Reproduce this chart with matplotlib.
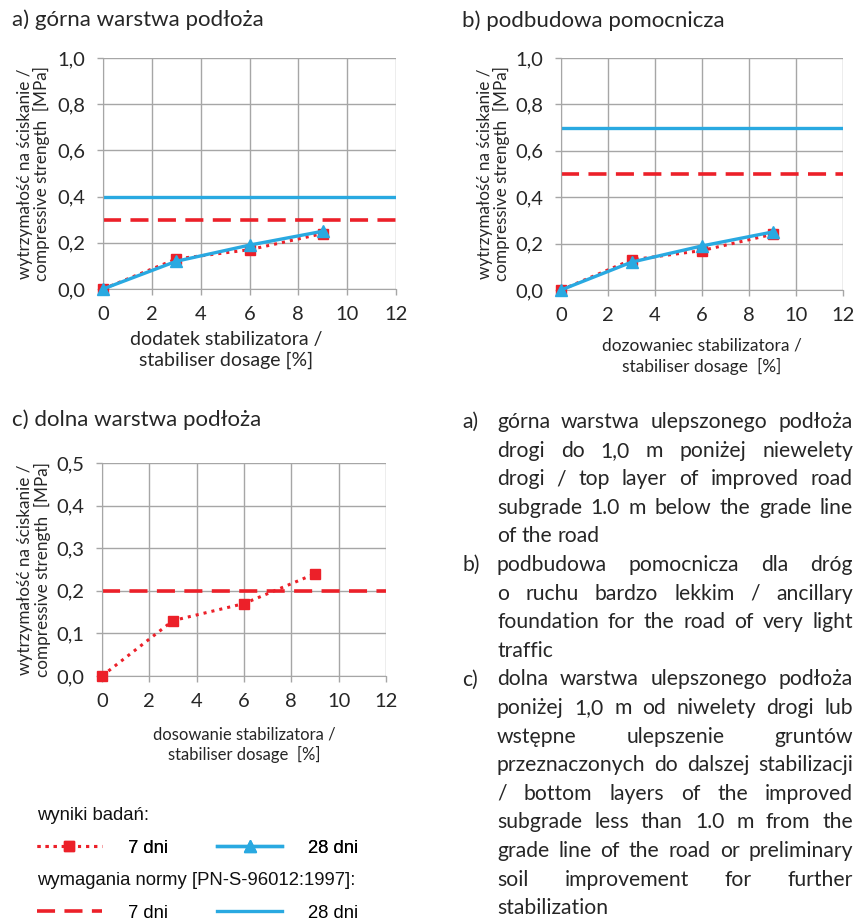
import numpy as np
import matplotlib
matplotlib.use("Agg")
import matplotlib.pyplot as plt
from matplotlib.lines import Line2D

# dane z wykresu
dawka = [0, 3, 6, 9]
wyniki_7dni = [0.0, 0.13, 0.17, 0.24]
wyniki_28dni = [0.0, 0.12, 0.19, 0.25]
norma_7dni = {"a": 0.3, "b": 0.5, "c": 0.2}
norma_28dni = {"a": 0.4, "b": 0.7}
tytuly = {"a": "a) górna warstwa podłoża",
          "b": "b) podbudowa pomocnicza",
          "c": "c) dolna warstwa podłoża"}
opisy_x = {"a": "dodatek stabilizatora /\nstabiliser dosage [%]",
           "b": "dozowaniec stabilizatora /\nstabiliser dosage  [%]",
           "c": "dosowanie stabilizatora /\nstabiliser dosage  [%]"}
opis_y = "wytrzymałość na ściskanie /\ncompressive strength  [MPa]"
x_ticks = [0, 2, 4, 6, 8, 10, 12]

# tekst opisu po prawej (akapity -> linie)
opis_akapity = [
    ("a)", ["górna warstwa ulepszonego podłoża",
            "drogi do 1,0 m poniżej niewelety",
            "drogi / top layer of improved road",
            "subgrade 1.0 m below the grade line",
            "of the road"]),
    ("b)", ["podbudowa pomocnicza dla dróg",
            "o ruchu bardzo lekkim / ancillary",
            "foundation for the road of very light",
            "traffic"]),
    ("c)", ["dolna warstwa ulepszonego podłoża",
            "poniżej 1,0 m od niwelety drogi lub",
            "wstępne ulepszenie gruntów",
            "przeznaczonych do dalszej stabilizacji",
            "/ bottom layers of the improved",
            "subgrade less than 1.0 m from the",
            "grade line of the road or preliminary",
            "soil improvement for further",
            "stabilization"]),
]

CZERWONY = "#ec2029"
NIEBIESKI = "#29a9e1"
SZARY = "#a6a6a6"
TEKST = "#262626"

plt.rcParams["font.family"] = ["Lato", "DejaVu Sans"]

W, H = 856, 921
fig = plt.figure(figsize=(W / 100, H / 100), dpi=100)


def px_axes(x0, x1, y_top, y_bot):
    return fig.add_axes([x0 / W, 1 - y_bot / H, (x1 - x0) / W, (y_bot - y_top) / H])


def rysuj_panel(ax, klucz, ymax, ystep, xlab_fs, xlab_pos):
    ax.plot(dawka, wyniki_7dni, color=CZERWONY, ls=":", lw=2.2, marker="s",
            ms=7.5, zorder=3, clip_on=False)
    if klucz in norma_28dni:
        ax.plot(dawka, wyniki_28dni, color=NIEBIESKI, ls="-", lw=2.4, marker="^",
                ms=8, zorder=4, clip_on=False)
        ax.axhline(norma_28dni[klucz], color=NIEBIESKI, lw=2.4, zorder=2)
    ax.axhline(norma_7dni[klucz], color=CZERWONY, lw=2.6, ls=(0, (5, 2.6)), zorder=2)

    ax.set_xlim(0, 12)
    ax.set_ylim(0, ymax)
    ax.set_xticks(x_ticks)
    yt = np.round(np.arange(0, ymax + ystep / 2, ystep), 2)
    ax.set_yticks(yt)
    ax.set_yticklabels([f"{v:.1f}".replace(".", ",") for v in yt])
    ax.grid(True, color=SZARY, lw=1)
    ax.set_axisbelow(True)
    for s in ["top", "right"]:
        ax.spines[s].set_visible(False)
    for s in ["left", "bottom"]:
        ax.spines[s].set_color(SZARY)
    ax.tick_params(axis="both", length=4, width=1, color=SZARY, labelsize=14.5,
                   labelcolor=TEKST)
    ax.tick_params(axis="y", pad=9)
    ax.tick_params(axis="x", pad=8)

    ax.set_ylabel(opis_y, fontsize=12.3, color=TEKST, linespacing=1.05)
    ax.yaxis.set_label_coords(-0.18, 0.5)
    ax.set_xlabel(opisy_x[klucz], fontsize=xlab_fs, color=TEKST, linespacing=1.3)
    ax.xaxis.set_label_coords(xlab_pos[0], xlab_pos[1])


ax_a = px_axes(103, 396, 58, 289)
rysuj_panel(ax_a, "a", 1.0, 0.2, 14, (0.42, -0.18))
ax_b = px_axes(561, 843, 58, 290)
rysuj_panel(ax_b, "b", 1.0, 0.2, 12.5, (0.5, -0.205))
ax_c = px_axes(102, 386, 463, 676)
rysuj_panel(ax_c, "c", 0.5, 0.1, 12, (0.5, -0.235))

fig.text(12 / W, 1 - 20 / H, tytuly["a"], fontsize=16, va="center", color=TEKST)
fig.text(462 / W, 1 - 21 / H, tytuly["b"], fontsize=16, va="center", color=TEKST)
fig.text(12 / W, 1 - 420 / H, tytuly["c"], fontsize=16, va="center", color=TEKST)

# legenda
leg_font = "Liberation Sans"
LFS = 13.3
h7 = Line2D([], [], color=CZERWONY, ls=":", lw=2.2, marker="s", ms=7.5)
h28 = Line2D([], [], color=NIEBIESKI, ls="-", lw=2.4, marker="^", ms=8)
n7 = Line2D([], [], color=CZERWONY, ls=(0, (5, 2.6)), lw=2.6)
n28 = Line2D([], [], color=NIEBIESKI, ls="-", lw=2.4)
leg_kw = dict(ncol=2, frameon=False, loc="center left",
              prop={"family": leg_font, "size": LFS},
              handlelength=3.5, handletextpad=1.4, columnspacing=2.7,
              borderpad=0, borderaxespad=0)
fig.text(37 / W, 1 - 816 / H, "wyniki badań:", family=leg_font, fontsize=LFS,
         va="center", color="#111111")
fig.text(37 / W, 1 - 880 / H, "wymagania normy [PN-S-96012:1997]:", family=leg_font,
         fontsize=LFS, va="center", color="#111111")
l1 = fig.legend([h7, h28], ["7 dni", "28 dni"], bbox_to_anchor=(37 / W, 1 - 848 / H), **leg_kw)
fig.add_artist(l1)
fig.legend([n7, n28], ["7 dni", "28 dni"], bbox_to_anchor=(37 / W, 1 - 913 / H), **leg_kw)

# tekst justowany
r = fig.canvas.get_renderer()
TFS = 15.2
x_lab, x_left, x_right = 462, 497, 853


def szerokosc(s):
    t = fig.text(0, 0, s, fontsize=TFS)
    w = t.get_window_extent(renderer=r).width
    t.remove()
    return w


spacja = szerokosc("a a") - szerokosc("aa")
wiersz = 0
for etykieta, linie in opis_akapity:
    for i, linia in enumerate(linie):
        yb = 1 - (428 + 28.6 * wiersz) / H
        if i == 0:
            fig.text(x_lab / W, yb, etykieta, fontsize=TFS, va="baseline", color=TEKST)
        slowa = linia.split()
        arts = [fig.text(0, yb, s, fontsize=TFS, va="baseline", color=TEKST) for s in slowa]
        szer = [a.get_window_extent(renderer=r).width for a in arts]
        if i < len(linie) - 1 and len(slowa) > 1:
            gap = max((x_right - x_left - sum(szer)) / (len(slowa) - 1), spacja * 0.7)
        else:
            gap = spacja
        x = x_left
        for a, w in zip(arts, szer):
            a.set_x(x / W)
            x += w + gap
        wiersz += 1

fig.savefig("out.png", dpi=100)
